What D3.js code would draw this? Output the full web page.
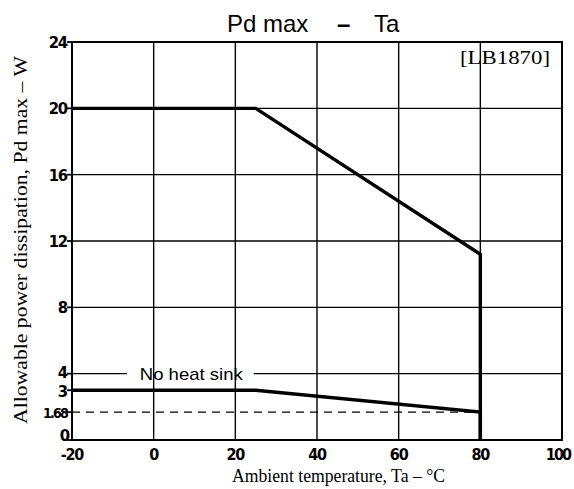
<!DOCTYPE html>
<html><head><meta charset="utf-8">
<script src="https://cdn.jsdelivr.net/npm/d3@7"></script>
<style>body{margin:0;background:#fff}</style>
</head><body>
<script>
const xTicks = [-20, 0, 20, 40, 60, 80, 100];
const yTicks = [0, 1.68, 3, 4, 8, 12, 16, 20, 24];
const yGrid = [4, 8, 12, 16, 20];
const xGrid = [0, 20, 40, 60, 80];
const withSinkT = [-20, 25, 80, 80];
const withSinkP = [20, 20, 11.2, 0];
const noSinkT = [-20, 25, 80, 80];
const noSinkP = [3, 3, 1.68, 0];
const dashedRefT = [-20, 80];
const dashedRefP = [1.68, 1.68];

const W = 574, H = 489;
const m = {l: 72, r: 12, t: 42, b: 49};
const svg = d3.select("body").append("svg").attr("width", W).attr("height", H);
const x = d3.scaleLinear().domain([-20, 100]).range([m.l, W - m.r]);
const y = d3.scaleLinear().domain([0, 24]).range([H - m.b, m.t]);
const SANS = "DejaVu Sans Condensed, DejaVu Sans, sans-serif";
const SERIF = "Liberation Serif, Times New Roman, serif";

// grid
svg.append("g").selectAll("line").data(xGrid).join("line")
  .attr("x1", d => x(d)).attr("x2", d => x(d)).attr("y1", y(0)).attr("y2", y(24))
  .attr("stroke", "#000").attr("stroke-width", 1.4);
svg.append("g").selectAll("line").data(yGrid.filter(d => d !== 4)).join("line")
  .attr("x1", x(-20)).attr("x2", x(100)).attr("y1", d => y(d)).attr("y2", d => y(d))
  .attr("stroke", "#000").attr("stroke-width", 1.4);
// line at 4 broken by label
svg.append("line").attr("x1", x(-20)).attr("x2", x(-6.5)).attr("y1", y(4)).attr("y2", y(4))
  .attr("stroke", "#000").attr("stroke-width", 1.4);
svg.append("line").attr("x1", x(24.5)).attr("x2", x(100)).attr("y1", y(4)).attr("y2", y(4))
  .attr("stroke", "#000").attr("stroke-width", 1.4);
svg.append("text").attr("x", x(-3.4)).attr("y", y(4) + 6)
  .attr("font-family", "Liberation Sans, Arial, sans-serif").attr("font-size", 17)
  .attr("textLength", 103).attr("lengthAdjust", "spacingAndGlyphs")
  .text("No heat sink");

// dashed
svg.append("path").datum(d3.zip(dashedRefT, dashedRefP))
  .attr("d", d3.line().x(d => x(d[0])).y(d => y(d[1])))
  .attr("stroke", "#000").attr("stroke-width", 1.3).attr("stroke-dasharray", "8,6").attr("fill", "none");

// frame
svg.append("rect").attr("x", x(-20)).attr("y", y(24)).attr("width", x(100) - x(-20)).attr("height", y(0) - y(24))
  .attr("fill", "none").attr("stroke", "#000").attr("stroke-width", 2);

// curves
const ln = d3.line().x(d => x(d[0])).y(d => y(d[1]));
svg.append("path").datum(d3.zip(withSinkT, withSinkP)).attr("d", ln)
  .attr("stroke", "#000").attr("stroke-width", 3.4).attr("fill", "none");
svg.append("path").datum(d3.zip(noSinkT, noSinkP)).attr("d", ln)
  .attr("stroke", "#000").attr("stroke-width", 3.4).attr("fill", "none");

// y axis ticks
const yAx = svg.append("g");
yAx.selectAll("line").data(yTicks).join("line")
  .attr("x1", x(-20) - 5).attr("x2", x(-20)).attr("y1", d => y(d)).attr("y2", d => y(d))
  .attr("stroke", "#000").attr("stroke-width", 1.8);
yAx.selectAll("text").data(yTicks).join("text")
  .attr("x", d => x(-20) - (d === 0 ? 3 : 5)).attr("y", d => y(d) + 6 + (d === 0 ? -5 : 0) + (d === 4 ? -2 : 0) + (d === 3 ? 1 : 0))
  .attr("text-anchor", "end")
  .attr("font-family", SANS).attr("font-weight", "bold")
  .attr("font-size", d => d === 1.68 ? 14 : 16.5).attr("letter-spacing", d => d === 1.68 ? -1.8 : -1.2)
  .text(d => d);

// x axis labels
svg.append("g").selectAll("text").data(xTicks).join("text")
  .attr("x", d => x(d) + (d === 100 ? -4 : 0)).attr("y", y(0) + 20).attr("text-anchor", "middle")
  .attr("font-family", SANS).attr("font-weight", "bold")
  .attr("font-size", 16).attr("letter-spacing", d => d === 100 ? -1.8 : -1.2)
  .text(d => d);

// titles
const t = svg.append("text").attr("y", 32)
  .attr("font-family", "Liberation Sans, Arial, sans-serif").attr("font-size", 24);
t.append("tspan").attr("x", 227).text("Pd max");
t.append("tspan").attr("x", 337).attr("font-weight", "bold").text("\u2013");
t.append("tspan").attr("x", 374).text("Ta");
svg.append("text").attr("x", 460).attr("y", 64)
  .attr("font-family", SERIF).attr("font-size", 18)
  .attr("textLength", 90).attr("lengthAdjust", "spacingAndGlyphs")
  .text("[LB1870]");
svg.append("text").attr("x", 232).attr("y", 482)
  .attr("font-family", SERIF).attr("font-size", 19)
  .attr("textLength", 213).attr("lengthAdjust", "spacingAndGlyphs")
  .text("Ambient temperature, Ta \u2013 \u00B0C");
svg.append("text").attr("transform", `translate(27,424) rotate(-90)`)
  .attr("font-family", SERIF).attr("font-size", 19)
  .attr("textLength", 368).attr("lengthAdjust", "spacingAndGlyphs")
  .text("Allowable power dissipation, Pd max \u2013 W");
</script>
</body></html>
